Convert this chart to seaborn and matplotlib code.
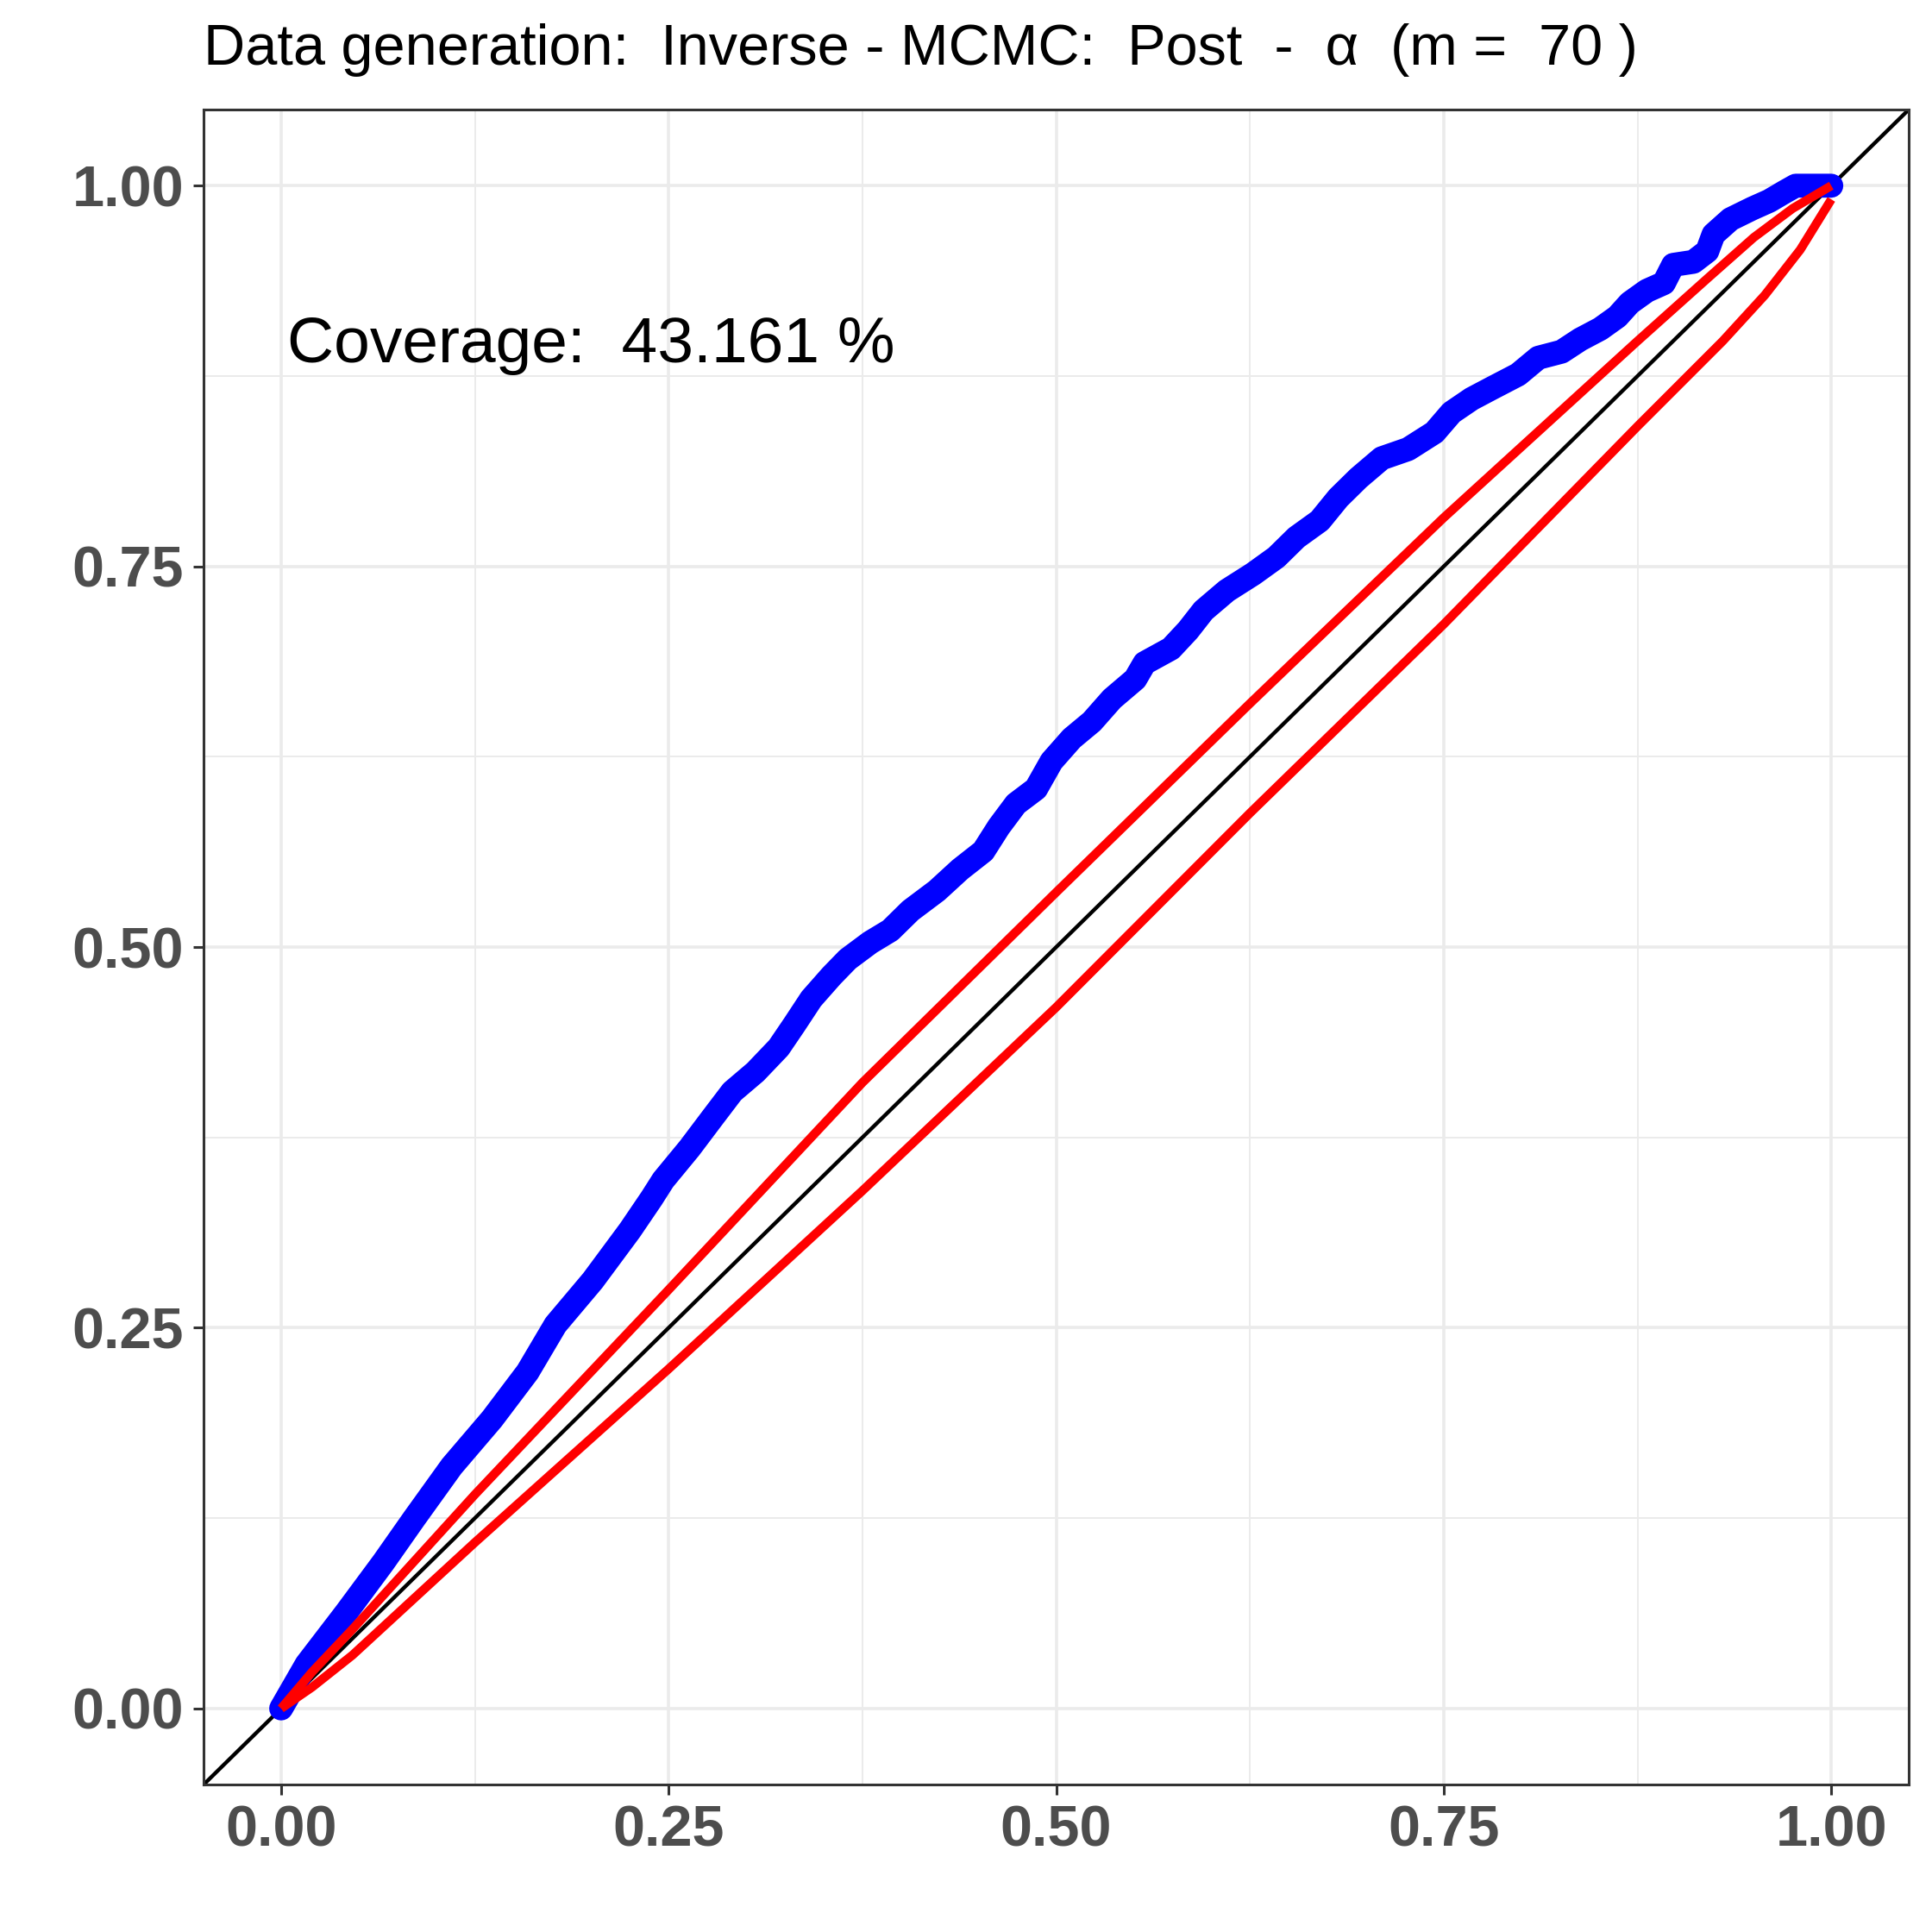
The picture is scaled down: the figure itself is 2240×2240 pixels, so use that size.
import matplotlib
matplotlib.use("Agg")
import matplotlib.pyplot as plt
import seaborn as sns
import pandas as pd
from matplotlib.ticker import MultipleLocator

# ECDF of the posterior quantiles (blue)
ecdf_x = [0, 0.0164, 0.042, 0.066, 0.086, 0.110, 0.136, 0.159, 0.177, 0.201,
          0.225, 0.239, 0.2465, 0.2635, 0.2783, 0.291, 0.306, 0.321, 0.331, 0.342,
          0.355, 0.3655, 0.380, 0.393, 0.406, 0.423, 0.438, 0.453, 0.463, 0.474,
          0.487, 0.497, 0.510, 0.523, 0.536, 0.551, 0.557, 0.574, 0.585, 0.595,
          0.610, 0.627, 0.642, 0.655, 0.670, 0.682, 0.695, 0.710, 0.727, 0.744,
          0.755, 0.768, 0.781, 0.798, 0.811, 0.826, 0.838, 0.851, 0.862, 0.870,
          0.881, 0.892, 0.898, 0.911, 0.920, 0.924, 0.935, 0.949, 0.960, 0.970,
          0.977, 1.0]
ecdf_y = [0, 0.029, 0.063, 0.096, 0.125, 0.159, 0.190, 0.221, 0.252, 0.281,
          0.314, 0.335, 0.347, 0.368, 0.388, 0.405, 0.418, 0.434, 0.449, 0.466,
          0.481, 0.492, 0.503, 0.511, 0.524, 0.537, 0.551, 0.563, 0.579, 0.594,
          0.604, 0.622, 0.637, 0.648, 0.663, 0.676, 0.6865, 0.696, 0.708, 0.721,
          0.734, 0.745, 0.756, 0.769, 0.780, 0.795, 0.808, 0.821, 0.827, 0.838,
          0.851, 0.860, 0.867, 0.876, 0.887, 0.891, 0.899, 0.906, 0.914, 0.923,
          0.931, 0.936, 0.948, 0.950, 0.957, 0.968, 0.978, 0.985, 0.990, 0.996,
          1.0, 1.0]

# confidence band (red)
upper_x = [0, 0.02, 0.046, 0.125, 0.25, 0.375, 0.5, 0.625, 0.75, 0.875, 0.92, 0.95, 0.975, 1.0]
upper_y = [0, 0.024, 0.052, 0.1405, 0.275, 0.411, 0.536, 0.660, 0.782, 0.898, 0.939, 0.966, 0.985, 1.0]
lower_x = [0, 0.02, 0.046, 0.125, 0.25, 0.375, 0.5, 0.625, 0.75, 0.875, 0.93, 0.957, 0.98, 1.0]
lower_y = [0, 0.014, 0.035, 0.109, 0.223, 0.340, 0.4605, 0.588, 0.712, 0.842, 0.898, 0.928, 0.958, 0.991]

tick_vals = [0, 0.25, 0.5, 0.75, 1.0]
tick_labels = ["0.00", "0.25", "0.50", "0.75", "1.00"]
coverage = 43.161
m = 70

sns.set_theme(style="white")
plt.rcParams["font.family"] = ["Liberation Sans", "DejaVu Sans"]

fig = plt.figure(figsize=(11.2, 11.2), dpi=200)
ax = fig.add_axes([0.1054, 0.0763, 0.988 - 0.1054, 0.9433 - 0.0763])

ax.axline((0, 0), (1, 1), color="black", linewidth=1.6, zorder=2)

ecdf = pd.DataFrame({"x": ecdf_x, "y": ecdf_y})
sns.lineplot(data=ecdf, x="x", y="y", sort=False, estimator=None, ax=ax,
             color="#0000FF", linewidth=10, solid_capstyle="round",
             solid_joinstyle="round", zorder=3)

band = pd.concat([
    pd.DataFrame({"x": upper_x, "y": upper_y, "bound": "upper"}),
    pd.DataFrame({"x": lower_x, "y": lower_y, "bound": "lower"}),
])
for name, grp in band.groupby("bound"):
    sns.lineplot(data=grp, x="x", y="y", sort=False, estimator=None, ax=ax,
                 color="#FF0000", linewidth=3.7, solid_capstyle="butt",
                 solid_joinstyle="round", zorder=4)

ax.text(0.2, 0.895, f"Coverage:  {coverage} %", fontsize=27, color="black",
        ha="center", va="center")

ax.set_xlim(-0.05, 1.05)
ax.set_ylim(-0.05, 1.05)
ax.set_xticks(tick_vals, tick_labels)
ax.set_yticks(tick_vals, tick_labels)
ax.xaxis.set_minor_locator(MultipleLocator(0.125))
ax.yaxis.set_minor_locator(MultipleLocator(0.125))
ax.grid(which="major", color="#EBEBEB", linewidth=1.3)
ax.grid(which="minor", color="#EBEBEB", linewidth=0.7)
ax.set_axisbelow(True)
ax.set_xlabel("")
ax.set_ylabel("")

for sp in ax.spines.values():
    sp.set_visible(True)
    sp.set_color("#333333")
    sp.set_linewidth(1.1)

ax.tick_params(axis="both", which="major", length=4.3, width=1.1, color="#333333",
               labelsize=24, labelcolor="#4D4D4D", bottom=True, left=True, pad=4)
ax.tick_params(axis="both", which="minor", length=0)
for lab in ax.get_xticklabels() + ax.get_yticklabels():
    lab.set_fontweight("bold")

ax.set_title(f"Data generation:  Inverse - MCMC:  Post  -  \u03b1  (m =  {m} )",
             loc="left", fontsize=24, color="black", pad=18.6)

fig.savefig("out.png", dpi=200)
